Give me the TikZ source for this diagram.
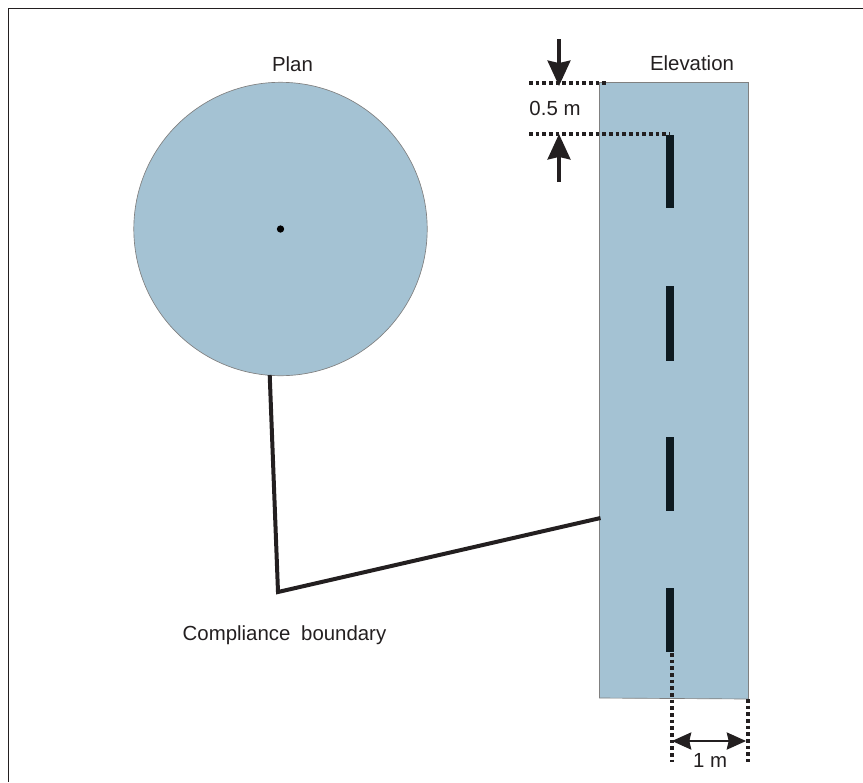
\documentclass[tikz,border=0pt]{standalone}
\usepackage{fontspec}
\setmainfont{Liberation Sans}
\usetikzlibrary{arrows.meta}
\definecolor{fillblue}{HTML}{A4C2D3}
\definecolor{inkblack}{HTML}{231F20}
\definecolor{rodblack}{HTML}{0D1A20}
\tikzset{
 x=0.75pt,y=-0.75pt,
 frameline/.style={draw=inkblack,line width=0.9pt},
 volume/.style={draw=gray,fill=fillblue,line width=0.5pt},
 rod/.style={draw=rodblack,line width=5.4pt},
 leader/.style={draw=inkblack,line width=3pt,line join=miter},
 dotline/.style={draw=inkblack,line width=3pt,dash pattern=on 2.8pt off 2.2pt},
 dimarrow/.style={draw=inkblack,line width=3pt,-{Stealth[length=19pt,width=17pt,inset=1.8pt]}},
 thinarrow/.style={draw=inkblack,line width=0.9pt,{Stealth[length=14.5pt,width=13pt,inset=1.5pt]}-{Stealth[length=14.5pt,width=13pt,inset=1.5pt]}},
 lab/.style={inner sep=0pt,font=\fontsize{15.3pt}{18pt}\selectfont,text=inkblack},
}
\begin{document}
\begin{tikzpicture}
\useasboundingbox (0,0) rectangle (863,782);
\path[frameline] (863,8.5) -- (8.5,8.5) -- (8.5,782);
\path[volume] (280.5,229) circle [radius=146.7];
\node[fill=black,circle,inner sep=0pt,minimum size=5.5pt] (centre) at (280.5,229) {};
\path[volume] (599.5,82.5) -- (748.5,82.5) -- (748.5,699) -- (599.5,698) -- cycle;
\coordinate (a1) at (670,135); \coordinate (a2) at (670,208);
\coordinate (b1) at (670,286); \coordinate (b2) at (670,361);
\coordinate (c1) at (670,437); \coordinate (c2) at (670,511);
\coordinate (d1) at (670,588); \coordinate (d2) at (670,652);
\path[rod] (a1)--(a2); \path[rod] (b1)--(b2); \path[rod] (c1)--(c2); \path[rod] (d1)--(d2);
\coordinate (l1) at (269.7,375); \coordinate (l2) at (278,592); \coordinate (l3) at (600.5,518);
\path[leader] (l1)--(l2)--(l3);
\coordinate (t1) at (529,82.5); \coordinate (t2) at (606,82.5);
\coordinate (u1) at (529,134); \coordinate (u2) at (670,134);
\path[dotline] (t1)--(t2);
\path[dotline] (u1)--(u2);
\coordinate (v1) at (672,653); \coordinate (v2) at (672,762);
\coordinate (w1) at (748,699); \coordinate (w2) at (748,762);
\path[dotline] (v1)--(v2);
\path[dotline] (w1)--(w2);
\coordinate (p1) at (559,39); \coordinate (p2) at (559,86);
\coordinate (q1) at (559,182); \coordinate (q2) at (559,134);
\path[dimarrow] (p1)--(p2);
\path[dimarrow] (q1)--(q2);
\coordinate (r1) at (672,741); \coordinate (r2) at (746,741);
\path[thinarrow] (r1)--(r2);
\node[lab] (plan) at (292.5,64) {Plan};
\node[lab] (elev) at (692,63) {Elevation};
\node[lab] (half) at (555,108) {0.5 m};
\node[lab] (one) at (710,760) {1 m};
\node[lab] (comp) at (284.5,635) {Compliance\hspace{0.25em} boundary};
\end{tikzpicture}
\end{document}
